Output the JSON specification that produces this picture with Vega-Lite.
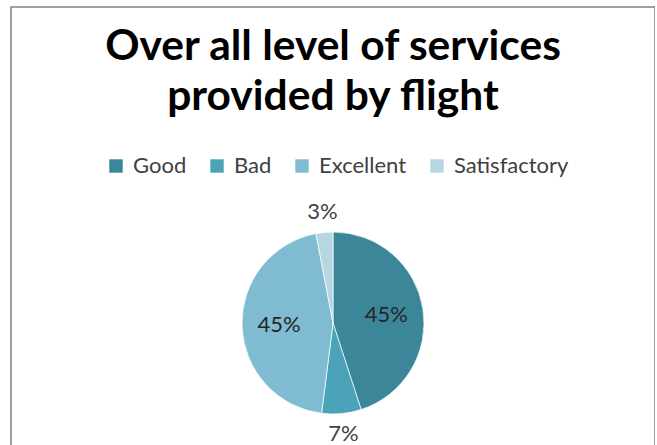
{
  "$schema": "https://vega.github.io/schema/vega-lite/v6.json",
  "autosize": {"type": "none"},
  "padding": {"left": 11, "top": 7, "right": 0, "bottom": 0},
  "width": 644,
  "height": 632,
  "background": "white",
  "view": {"stroke": "#808080", "strokeWidth": 1.5},
  "title": {
    "text": ["Over all level of services", "provided by flight"],
    "font": "Lato",
    "fontSize": 42.5,
    "fontWeight": "bold",
    "lineHeight": 50,
    "color": "#000000",
    "anchor": "middle",
    "frame": "group",
    "offset": 0,
    "dy": 111
  },
  "config": {
    "legend": {
      "orient": "none",
      "legendX": 94,
      "legendY": 148,
      "direction": "horizontal",
      "columns": 4,
      "title": null,
      "symbolType": "square",
      "symbolSize": 180,
      "symbolStrokeWidth": 0,
      "labelFont": "Lato",
      "labelFontSize": 22,
      "labelColor": "#404040",
      "labelOffset": 6,
      "columnPadding": 19,
      "padding": 0
    }
  },
  "data": {
    "values": [
      {"category": "Good", "share": 0.45},
      {"category": "Bad", "share": 0.07},
      {"category": "Excellent", "share": 0.45},
      {"category": "Satisfactory", "share": 0.03}
    ]
  },
  "transform": [
    {"window": [{"op": "row_number", "as": "row"}]}
  ],
  "encoding": {
    "theta": {"field": "share", "type": "quantitative", "stack": true},
    "order": {"field": "row", "type": "quantitative"}
  },
  "layer": [
    {
      "mark": {"type": "arc", "outerRadius": 91, "stroke": "#ffffff", "strokeWidth": 0.7},
      "encoding": {
        "color": {
          "field": "category",
          "type": "nominal",
          "sort": ["Good", "Bad", "Excellent", "Satisfactory"],
          "scale": {
            "domain": ["Good", "Bad", "Excellent", "Satisfactory"],
            "range": ["#3c8699", "#4ba3b9", "#7fbcd1", "#b6d7e2"]
          }
        }
      }
    },
    {
      "mark": {"type": "text", "radius": 54, "font": "Lato", "fontSize": 22, "color": "#262626"},
      "encoding": {
        "text": {
          "condition": {"test": "datum.share > 0.1", "field": "share", "format": ".0%"},
          "value": ""
        }
      }
    },
    {
      "mark": {"type": "text", "radius": 111, "font": "Lato", "fontSize": 22, "color": "#404040"},
      "encoding": {
        "text": {
          "condition": {"test": "datum.share <= 0.1", "field": "share", "format": ".0%"},
          "value": ""
        }
      }
    }
  ]
}
